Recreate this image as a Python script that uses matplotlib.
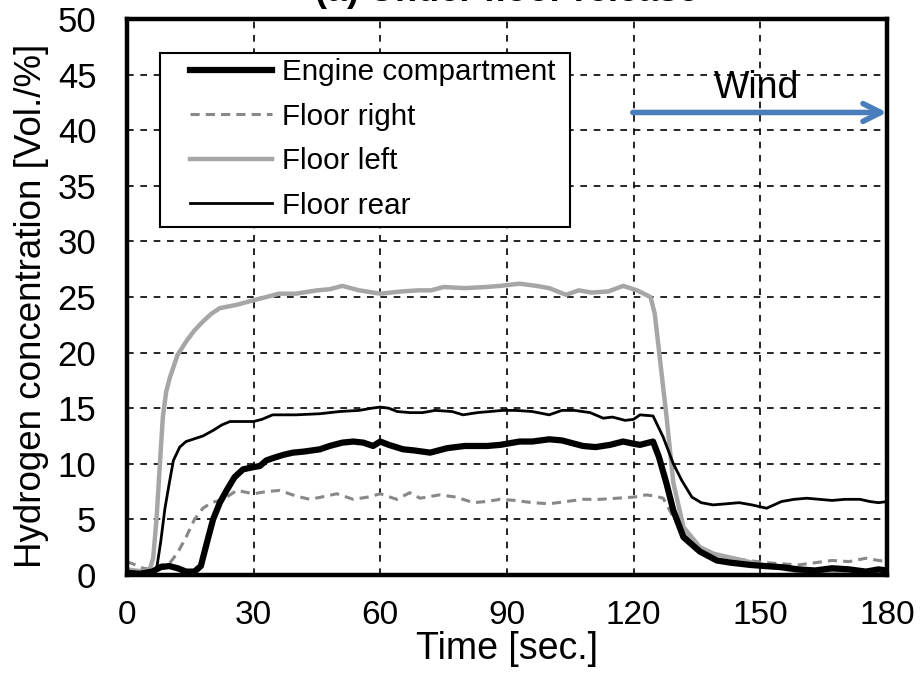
import matplotlib
matplotlib.use("Agg")
import matplotlib.pyplot as plt
from matplotlib.patches import Rectangle

plt.rcParams['font.family'] = ['Liberation Sans', 'DejaVu Sans']

# Engine compartment
t_engine = [0, 3, 6, 8, 10, 12, 14, 16, 17.5, 19, 20.4, 22, 23.6, 25.5, 27.5, 30, 31.5, 33, 34.5,
            37, 39.3, 42, 45.7, 48, 51, 53.6, 56, 58.3, 60, 62, 65.4, 68, 71.8, 75.8, 80, 85.3,
            88.4, 93, 96, 100, 103, 105, 108, 111, 114.4, 117.5, 120, 121.5, 124.6, 126, 127.8,
            129.4, 131.8, 135.7, 139.7, 143, 147.6, 151, 155, 159, 163, 167, 171, 175, 178, 180]
v_engine = [0.2, 0.1, 0.3, 0.7, 0.8, 0.6, 0.3, 0.3, 0.8, 3, 5, 6.5, 7.6, 8.8, 9.5, 9.7, 9.8, 10.3, 10.5,
            10.8, 11.0, 11.1, 11.3, 11.6, 11.9, 12.0, 11.9, 11.6, 12.0, 11.7, 11.3, 11.2, 11.0, 11.4, 11.6, 11.6,
            11.7, 12.0, 12.0, 12.2, 12.1, 11.9, 11.6, 11.5, 11.7, 12.0, 11.8, 11.7, 12.0, 10.6, 8.2,
            5.8, 3.4, 2.1, 1.3, 1.1, 0.9, 0.8, 0.7, 0.5, 0.4, 0.6, 0.5, 0.3, 0.5, 0.4]

# Floor right
t_right = [0, 2, 3.8, 6, 8, 10, 12, 14, 16, 18, 20, 22.8, 26, 30, 33, 36.2, 40, 43.3, 46, 49.7, 53.6,
           57, 60, 63.9, 67, 69.4, 74, 78, 82, 85, 88.4, 92, 96, 100, 104, 108, 112, 116, 120, 123,
           125, 127, 129.4, 131.8, 135.7, 140, 143.6, 147, 151.5, 155, 159, 163, 167, 171, 175, 178, 180]
v_right = [1.2, 0.9, 0.6, 0.5, 0.9, 1.0, 2.0, 3.4, 5.0, 6.0, 6.5, 6.8, 7.6, 7.3, 7.5, 7.6, 7.1, 6.8, 7.0, 7.3, 6.8,
           7.0, 7.3, 6.8, 7.4, 6.9, 7.2, 7.0, 6.5, 6.6, 6.8, 6.7, 6.5, 6.4, 6.6, 6.8, 6.8, 6.9, 7.0, 7.2,
           7.1, 6.9, 5.2, 3.7, 2.3, 1.8, 1.5, 1.3, 1.1, 1.0, 0.9, 1.1, 1.3, 1.2, 1.5, 1.3, 1.2]

# Floor left
t_left = [0, 2, 4, 5.5, 6.2, 7, 7.8, 8.5, 9.3, 10.2, 12, 14.2, 16, 18, 20, 22, 26, 29.9, 33, 36, 40,
          45, 48, 51, 55, 60, 65, 69, 72, 75, 80, 85, 88.4, 93, 97, 100, 104, 107, 110, 114, 117.5,
          120.8, 124, 125, 126, 127.8, 129.4, 131.8, 135.7, 139, 143.6, 147, 151.5, 155, 159, 165,
          170, 175, 180]
v_left = [0.5, 0.4, 0.3, 0.6, 1.5, 5, 10, 14.2, 16.5, 17.8, 19.8, 21.1, 22.0, 22.8, 23.5, 24.0, 24.3, 24.7, 25.0, 25.3, 25.3,
          25.6, 25.7, 26.0, 25.6, 25.3, 25.5, 25.6, 25.6, 25.9, 25.8, 25.9, 26.0, 26.2, 26.0, 25.8, 25.2, 25.6, 25.4, 25.5, 26.0,
          25.6, 25.0, 23.5, 20.2, 14.2, 8.3, 4.3, 2.5, 1.9, 1.5, 1.2, 0.8, 0.6, 0.3, 0.3,
          0.2, 0.3, 0.2]

# Floor rear
t_rear = [0, 3, 5.5, 7, 8, 9, 10, 11, 12.5, 14, 15.6, 18, 20.4, 22.5, 24.4, 27, 30, 32, 34.5, 40, 45.7,
          50.4, 55, 58, 60, 62, 64, 67, 70, 73, 77, 79.6, 83, 86, 89, 92, 96, 100, 103, 106, 109.7,
          112.8, 115, 118, 120, 121.5, 124.6, 127, 129.4, 131.4, 133.8, 136, 138.8, 142, 145, 148,
          151.5, 155, 158, 161, 164, 167, 170, 173.6, 176, 178, 180]
v_rear = [0.1, 0.0, 0.1, 0.5, 3, 6, 8.2, 10.3, 11.5, 12.0, 12.2, 12.5, 13.0, 13.5, 13.8, 13.8, 13.8, 14.0, 14.4, 14.4, 14.5,
          14.7, 14.8, 15.0, 15.1, 15.0, 14.7, 14.6, 14.6, 14.8, 14.7, 14.4, 14.6, 14.7, 14.8, 14.8, 14.7, 14.4, 14.8, 14.8, 14.6,
          14.1, 14.2, 13.9, 14.0, 14.4, 14.3, 12.4, 10.0, 8.5, 7.0, 6.5, 6.3, 6.4, 6.5, 6.3,
          6.0, 6.6, 6.8, 6.9, 6.8, 6.7, 6.8, 6.8, 6.6, 6.5, 6.6]

x_ticks = [0, 30, 60, 90, 120, 150, 180]
y_ticks = list(range(0, 51, 5))

fig = plt.figure(figsize=(9.22, 6.82), dpi=100)
ax = fig.add_axes([0.1377, 0.157, 0.8243, 0.815])

ax.plot(t_engine, v_engine, color='black', lw=4.5, label='Engine compartment', zorder=5)
ax.plot(t_right, v_right, color='#888888', lw=2.2, dashes=(3, 2), label='Floor right', zorder=3)
ax.plot(t_left, v_left, color='#a6a6a6', lw=3.2, label='Floor left', zorder=4)
ax.plot(t_rear, v_rear, color='black', lw=2.0, label='Floor rear', zorder=6)

ax.set_xlim(0, 180)
ax.set_ylim(0, 50)
ax.set_xticks(x_ticks)
ax.set_yticks(y_ticks)
ax.tick_params(length=0, labelsize=24, pad=18)
ax.tick_params(axis='y', pad=22, labelsize=25)
ax.grid(True, color='black', lw=1.2, linestyle=(0, (4, 4)))
ax.set_axisbelow(True)
for s in ax.spines.values():
    s.set_linewidth(3.2)
    s.set_zorder(10)

ax.set_xlabel('Time [sec.]', fontsize=27, labelpad=0)
ax.set_ylabel('Hydrogen concentration [Vol./%]', fontsize=26.5)
ax.yaxis.set_label_coords(-0.103, 0.484)

# legend frame drawn separately so the inner padding matches
frame = Rectangle((0.0434, 0.626), 0.5396, 0.313, transform=ax.transAxes,
                  facecolor='white', edgecolor='black', lw=1.5, zorder=7)
ax.add_patch(frame)
leg = ax.legend(loc='upper left', bbox_to_anchor=(0.083, 0.93), borderaxespad=0, borderpad=0,
                fontsize=21.3, handlelength=2.78, handletextpad=0.33, labelspacing=0.56,
                frameon=False)
leg.set_zorder(8)

ax.annotate('', xy=(180, 41.6), xytext=(119.8, 41.6),
            arrowprops=dict(arrowstyle='->', color='#4a7ebb', lw=4, mutation_scale=32,
                            shrinkA=0, shrinkB=0), annotation_clip=False, zorder=9)
ax.text(149.2, 43.8, 'Wind', fontsize=27, ha='center', va='center', zorder=9)

fig.text(0.55, 1 - 1 / 682, '(a) Under floor release', fontsize=26, fontweight='bold',
         ha='center', va='baseline')

fig.savefig('out.png', dpi=100)
